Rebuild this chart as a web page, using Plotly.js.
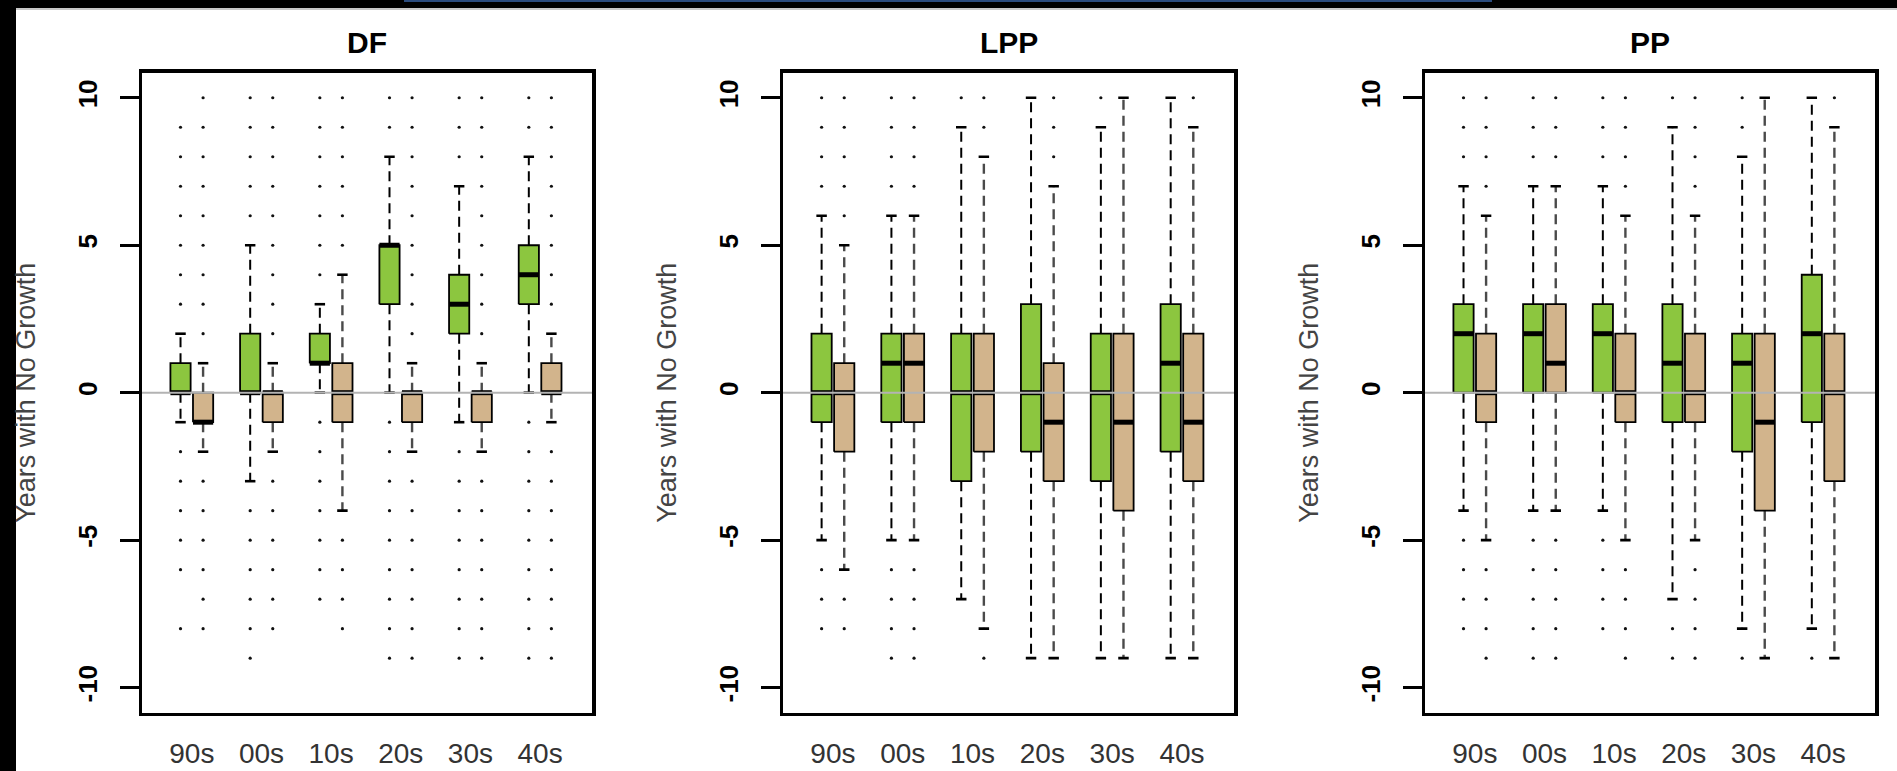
<!DOCTYPE html>
<html>
<head>
<meta charset="utf-8">
<script src="https://cdn.plot.ly/plotly-3.0.1.min.js"></script>
<style>
html,body{margin:0;padding:0;background:#fff;}
#chart{width:1897px;height:771px;}
</style>
</head>
<body>
<div id="chart"></div>
<script>
// ---------- data ----------
const DECADES = ['90s', '00s', '10s', '20s', '30s', '40s'];
const PANEL_TITLES = ['DF', 'LPP', 'PP'];
const Y_TITLE = 'Years with No Growth';
const Y_TICKS = [-10, -5, 0, 5, 10];
const REF_LEVEL = 0;

// DF – green series
const DF_G_LOWER = [-1, -3, 0, 0, -1, 0];
const DF_G_Q1    = [0, 0, 1, 3, 2, 3];
const DF_G_MED   = [0, 0, 1, 5, 3, 4];
const DF_G_Q3    = [1, 2, 2, 5, 4, 5];
const DF_G_UPPER = [2, 5, 3, 8, 7, 8];
const DF_G_OUT = [
  [3, 4, 5, 6, 7, 8, 9, -2, -3, -4, -5, -6, -8],
  [6, 7, 8, 9, 10, -4, -5, -6, -7, -8, -9],
  [4, 5, 6, 7, 8, 9, 10, -1, -2, -3, -4, -5, -6, -7],
  [9, 10, -1, -2, -3, -4, -5, -6, -7, -8, -9],
  [8, 9, 10, -2, -3, -4, -5, -6, -7, -8, -9],
  [9, 10, -1, -2, -3, -4, -5, -6, -7, -8, -9]
];
// DF – tan series
const DF_T_LOWER = [-2, -2, -4, -2, -2, -1];
const DF_T_Q1    = [-1, -1, -1, -1, -1, 0];
const DF_T_MED   = [-1, 0, 0, 0, 0, 0];
const DF_T_Q3    = [0, 0, 1, 0, 0, 1];
const DF_T_UPPER = [1, 1, 4, 1, 1, 2];
const DF_T_OUT = [
  [2, 3, 4, 5, 6, 7, 8, 9, 10, -3, -4, -5, -6, -7, -8],
  [2, 3, 4, 5, 6, 7, 8, 9, 10, -3, -4, -5, -6, -7, -8],
  [5, 6, 7, 8, 9, 10, -5, -6, -7, -8],
  [2, 3, 4, 5, 6, 7, 8, 9, 10, -3, -4, -5, -6, -7, -8, -9],
  [2, 3, 4, 5, 6, 7, 8, 9, 10, -3, -4, -5, -6, -7, -8, -9],
  [3, 4, 5, 6, 7, 8, 9, 10, -2, -3, -4, -5, -6, -7, -8, -9]
];

// LPP – green series
const LPP_G_LOWER = [-5, -5, -7, -9, -9, -9];
const LPP_G_Q1    = [-1, -1, -3, -2, -3, -2];
const LPP_G_MED   = [0, 1, 0, 0, 0, 1];
const LPP_G_Q3    = [2, 2, 2, 3, 2, 3];
const LPP_G_UPPER = [6, 6, 9, 10, 9, 10];
const LPP_G_OUT = [
  [7, 8, 9, 10, -6, -7, -8],
  [7, 8, 9, 10, -6, -7, -8, -9],
  [10],
  [],
  [10],
  []
];
// LPP – tan series
const LPP_T_LOWER = [-6, -5, -8, -9, -9, -9];
const LPP_T_Q1    = [-2, -1, -2, -3, -4, -3];
const LPP_T_MED   = [0, 1, 0, -1, -1, -1];
const LPP_T_Q3    = [1, 2, 2, 1, 2, 2];
const LPP_T_UPPER = [5, 6, 8, 7, 10, 9];
const LPP_T_OUT = [
  [6, 7, 8, 9, 10, -7, -8],
  [7, 8, 9, 10, -6, -7, -8, -9],
  [9, 10, -9],
  [8, 9, 10],
  [],
  [10]
];

// PP – green series
const PP_G_LOWER = [-4, -4, -4, -7, -8, -8];
const PP_G_Q1    = [0, 0, 0, -1, -2, -1];
const PP_G_MED   = [2, 2, 2, 1, 1, 2];
const PP_G_Q3    = [3, 3, 3, 3, 2, 4];
const PP_G_UPPER = [7, 7, 7, 9, 8, 10];
const PP_G_OUT = [
  [8, 9, 10, -5, -6, -7, -8],
  [8, 9, 10, -5, -6, -7, -8, -9],
  [8, 9, 10, -5, -6, -7, -8],
  [10, -8, -9],
  [9, 10, -9],
  [-9]
];
// PP – tan series
const PP_T_LOWER = [-5, -4, -5, -5, -9, -9];
const PP_T_Q1    = [-1, 0, -1, -1, -4, -3];
const PP_T_MED   = [0, 1, 0, 0, -1, 0];
const PP_T_Q3    = [2, 3, 2, 2, 2, 2];
const PP_T_UPPER = [6, 7, 6, 6, 10, 9];
const PP_T_OUT = [
  [7, 8, 9, 10, -6, -7, -8, -9],
  [8, 9, 10, -5, -6, -7, -8, -9],
  [7, 8, 9, 10, -6, -7, -8, -9],
  [7, 8, 9, 10, -6, -7, -8, -9],
  [],
  [10]
];

// ---------- styling ----------
const FONT = 'Liberation Sans, Arial, Helvetica, sans-serif';
const GREEN = '#8cc63f';
const TAN = '#d2b48c';
const OFFSET = 0.162;     // half distance between the two boxes of a decade
const HALF_W = 0.145;     // half box width
const CAP_HALF = 0.075;   // half staple width
const X_RANGE = [0.285, 6.745];
const Y_RANGE = [-10.85, 10.85];
const X_DOMAINS = [[142 / 1897, 592 / 1897], [783 / 1897, 1234 / 1897], [1425 / 1897, 1875 / 1897]];
const Y_DOMAIN = [1 - 712.7 / 771, 1 - 72.7 / 771];

const PANELS = [
  { g: [DF_G_LOWER, DF_G_Q1, DF_G_MED, DF_G_Q3, DF_G_UPPER, DF_G_OUT],
    t: [DF_T_LOWER, DF_T_Q1, DF_T_MED, DF_T_Q3, DF_T_UPPER, DF_T_OUT] },
  { g: [LPP_G_LOWER, LPP_G_Q1, LPP_G_MED, LPP_G_Q3, LPP_G_UPPER, LPP_G_OUT],
    t: [LPP_T_LOWER, LPP_T_Q1, LPP_T_MED, LPP_T_Q3, LPP_T_UPPER, LPP_T_OUT] },
  { g: [PP_G_LOWER, PP_G_Q1, PP_G_MED, PP_G_Q3, PP_G_UPPER, PP_G_OUT],
    t: [PP_T_LOWER, PP_T_Q1, PP_T_MED, PP_T_Q3, PP_T_UPPER, PP_T_OUT] }
];

const traces = [];
function addSeries(stats, shift, color, whiskerColor, whiskerWidth, xa, ya, name) {
  const [lo, q1, med, q3, up, out] = stats;
  const wx = [], wy = [], cx = [], cy = [], bx = [], by = [], mx = [], my = [], ox = [], oy = [];
  DECADES.forEach((d, i) => {
    const c = i + 1 + shift;
    wx.push(c, c, null, c, c, null);
    wy.push(q3[i], up[i], null, q1[i], lo[i], null);
    cx.push(c - CAP_HALF, c + CAP_HALF, null, c - CAP_HALF, c + CAP_HALF, null);
    cy.push(up[i], up[i], null, lo[i], lo[i], null);
    bx.push(c - HALF_W, c + HALF_W, c + HALF_W, c - HALF_W, c - HALF_W, null);
    by.push(q1[i], q1[i], q3[i], q3[i], q1[i], null);
    mx.push(c - HALF_W, c + HALF_W, null);
    my.push(med[i], med[i], null);
    out[i].forEach(v => { ox.push(c); oy.push(v); });
  });
  const common = { xaxis: xa, yaxis: ya, hoverinfo: 'skip', showlegend: false };
  traces.push(Object.assign({ type: 'scatter', mode: 'lines', x: wx, y: wy, name: name + ' whiskers',
    line: { color: whiskerColor, width: whiskerWidth, dash: '10px,6px' }, connectgaps: false }, common));
  traces.push(Object.assign({ type: 'scatter', mode: 'lines', x: cx, y: cy, name: name + ' staples',
    line: { color: '#000', width: 2.6 }, connectgaps: false }, common));
  traces.push(Object.assign({ type: 'scatter', mode: 'lines', x: bx, y: by, name: name + ' boxes',
    fill: 'toself', fillcolor: color, line: { color: '#000', width: 1.8 }, connectgaps: false }, common));
  traces.push(Object.assign({ type: 'scatter', mode: 'lines', x: mx, y: my, name: name + ' medians',
    line: { color: '#000', width: 5 }, connectgaps: false }, common));
  traces.push(Object.assign({ type: 'scatter', mode: 'markers', x: ox, y: oy, name: name + ' outliers',
    marker: { color: '#111', size: 3.2, symbol: 'circle' } }, common));
}

const layout = {
  width: 1897, height: 771,
  margin: { l: 0, r: 0, t: 0, b: 0, pad: 0 },
  paper_bgcolor: '#ffffff', plot_bgcolor: '#ffffff',
  showlegend: false,
  font: { family: FONT, color: '#000' },
  annotations: [], shapes: []
};

PANELS.forEach((p, k) => {
  const sfx = k === 0 ? '' : String(k + 1);
  const xa = 'x' + sfx, ya = 'y' + sfx;
  addSeries(p.g, -OFFSET, GREEN, '#000', 2, xa, ya, PANEL_TITLES[k] + ' green');
  addSeries(p.t, OFFSET, TAN, '#4a4a4a', 2.4, xa, ya, PANEL_TITLES[k] + ' tan');

  layout['xaxis' + sfx] = {
    domain: X_DOMAINS[k], anchor: ya, range: X_RANGE,
    tickmode: 'array', tickvals: DECADES.map((d, i) => i + 1), ticktext: DECADES,
    ticks: '', showgrid: false, zeroline: false,
    showline: true, mirror: true, linecolor: '#000', linewidth: 3.5,
    tickfont: { family: FONT, size: 28, color: '#333' },
    ticklabelstandoff: 13
  };
  layout['yaxis' + sfx] = {
    domain: Y_DOMAIN, anchor: xa, range: Y_RANGE,
    tickmode: 'array', tickvals: Y_TICKS, ticktext: Y_TICKS.map(String),
    ticks: 'outside', ticklen: 19, tickwidth: 3, tickcolor: '#000',
    tickangle: -90,
    tickfont: { family: FONT, size: 26, color: '#000', weight: 'bold' },
    ticklabelstandoff: 12,
    showgrid: false, zeroline: false,
    showline: true, mirror: true, linecolor: '#000', linewidth: 3.5,
    title: { text: Y_TITLE, font: { family: FONT, size: 27, color: '#444' }, standoff: 30 }
  };
  layout.annotations.push({
    text: '<b>' + PANEL_TITLES[k] + '</b>', xref: xa + ' domain', x: 0.5,
    yref: 'paper', y: 1 - 42.7 / 771, xanchor: 'center', yanchor: 'middle',
    showarrow: false, font: { family: FONT, size: 30, color: '#000' }
  });
  layout.shapes.push({
    type: 'line', xref: xa + ' domain', x0: 0, x1: 1, yref: ya, y0: REF_LEVEL, y1: REF_LEVEL,
    line: { color: '#b3b3b3', width: 2 }, layer: 'above'
  });
});

// frame decoration of the original screenshot
layout.shapes.push(
  { type: 'rect', xref: 'paper', yref: 'paper', x0: 0, x1: 16 / 1897, y0: 0, y1: 1,
    fillcolor: '#000', line: { width: 0 }, layer: 'below' },
  { type: 'rect', xref: 'paper', yref: 'paper', x0: 0, x1: 1, y0: 1 - 8 / 771, y1: 1,
    fillcolor: '#000', line: { width: 0 }, layer: 'below' },
  { type: 'rect', xref: 'paper', yref: 'paper', x0: 404 / 1897, x1: 1492 / 1897, y0: 1 - 2 / 771, y1: 1,
    fillcolor: '#2b4c7e', line: { width: 0 }, layer: 'below' },
  { type: 'rect', xref: 'paper', yref: 'paper', x0: 16 / 1897, x1: 1, y0: 1 - 10 / 771, y1: 1 - 8 / 771,
    fillcolor: '#c8c8c8', line: { width: 0 }, layer: 'below' }
);

Plotly.newPlot('chart', traces, layout, { displayModeBar: false, staticPlot: true });
</script>
</body>
</html>
